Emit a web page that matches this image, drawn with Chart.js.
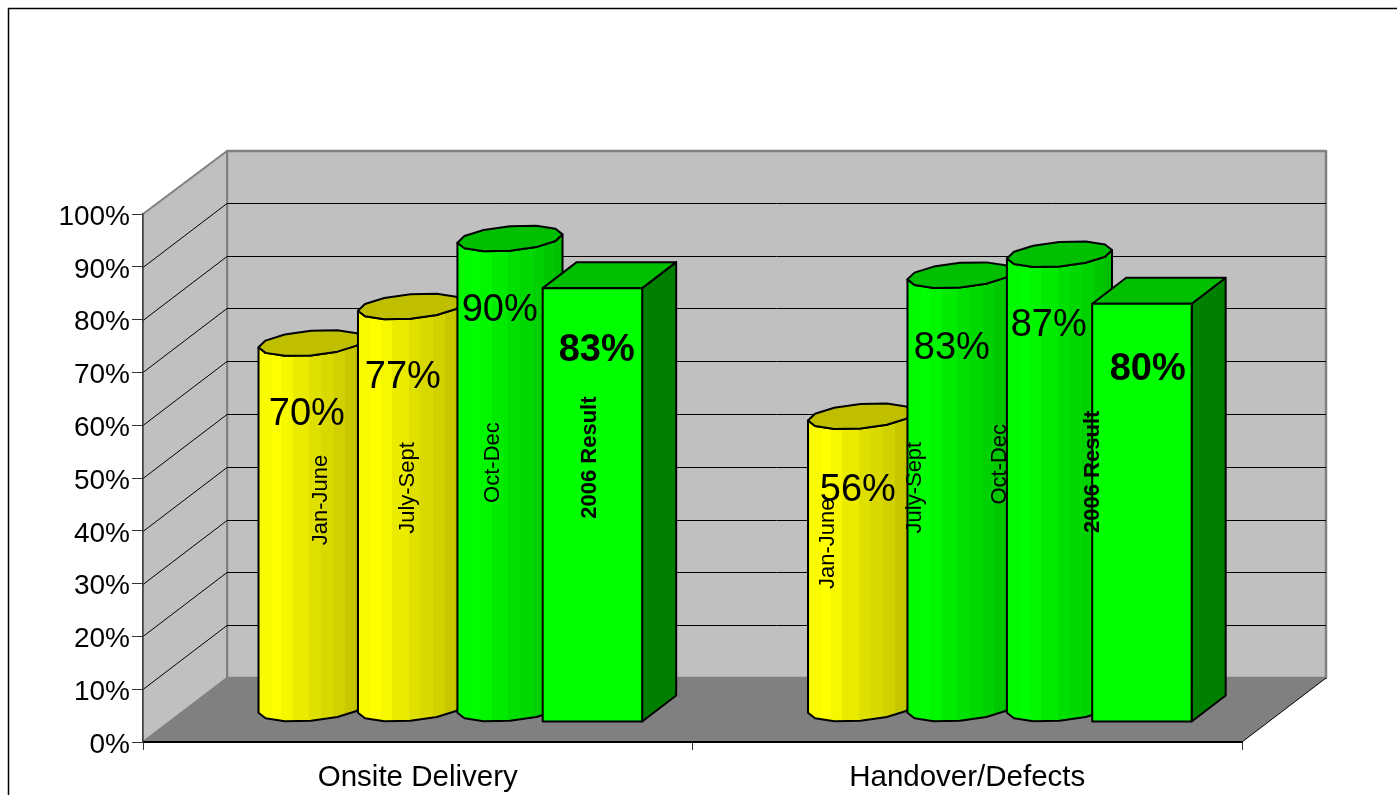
<!DOCTYPE html>
<html>
<head>
<meta charset="utf-8">
<title>2006 Result</title>
<script src="https://cdn.jsdelivr.net/npm/chart.js@4"></script>
<style>
    html, body { margin: 0; padding: 0; background: #ffffff; overflow: hidden; }
    canvas { display: block; }
</style>
</head>
<body>
<canvas id="resultChart" width="1397" height="795"></canvas>
<script>
// Chart data
const categories = ['Onsite Delivery', 'Handover/Defects'];
const seriesNames = ['Jan-June', 'July-Sept', 'Oct-Dec', '2006 Result'];
const janJune = [70, 56];
const julySept = [77, 83];
const octDec = [90, 87];
const result2006 = [83, 80];
const yTicks = [0, 10, 20, 30, 40, 50, 60, 70, 80, 90, 100];

// Colours per bar, one row for each series
const barColours = [
    [[255, 255, 0], [255, 255, 0]],
    [[255, 255, 0], [0, 255, 0]],
    [[0, 255, 0], [0, 255, 0]],
    [[0, 255, 0], [0, 255, 0]]
];
// Shading strips round the cylinder, left to right
const stripStops = [0.125, 0.218, 0.327, 0.483, 0.592, 0.717, 0.826, 0.92, 1];
const stripShades = [0.98, 1, 0.97, 0.92, 0.88, 0.85, 0.82, 0.78, 0.75];

// Label nudges, measured from the front left corner and the top of the bar
const valueDx = [[62.5, 64], [59, 58.5], [56.5, 56], [54, 55.5]];
const valueDy = [[58, 61], [58, 60], [59, 58], [62.5, 66]];
const nameDx = [[76.5, 34], [64, 21.5], [50, 7.5], [47.5, 1]];
const nameDy = [[144, 114.5], [168.5, 199.5], [211, 197], [169.5, 168]];

// 3D look of the plot
const FONT = '"Liberation Sans", Arial, sans-serif';
const WALL = { dx: 84, dy: 64 };
const BAR = { shiftX: 25.5, shiftY: 20, dx: 34, dy: 26, heightScale: 0.99, facets: 6 };

const rgb = (c, f = 1) => `rgb(${Math.round(c[0] * f)}, ${Math.round(c[1] * f)}, ${Math.round(c[2] * f)})`;

function fillPoly(ctx, points, fill, stroke, lineWidth) {
    ctx.beginPath();
    points.forEach((p, i) => (i ? ctx.lineTo(p[0], p[1]) : ctx.moveTo(p[0], p[1])));
    ctx.closePath();
    if (fill) {
        ctx.fillStyle = fill;
        ctx.fill();
    }
    if (stroke) {
        ctx.strokeStyle = stroke;
        ctx.lineWidth = lineWidth;
        ctx.lineJoin = 'round';
        ctx.stroke();
    }
}

// Position of a bar element once it stands on the floor
function barBox(el) {
    const left = el.x - el.width / 2 + BAR.shiftX;
    const bottom = el.base - BAR.shiftY;
    const top = bottom - (el.base - el.y) * BAR.heightScale;
    return { left, right: left + el.width, top, bottom, width: el.width };
}

function drawBlock(ctx, box, colour) {
    const { left, right, top, bottom } = box;
    fillPoly(ctx, [[right, top], [right + BAR.dx, top - BAR.dy], [right + BAR.dx, bottom - BAR.dy], [right, bottom]],
        rgb(colour, 0.5), '#000', 2);
    fillPoly(ctx, [[left, top], [left + BAR.dx, top - BAR.dy], [right + BAR.dx, top - BAR.dy], [right, top]],
        rgb(colour, 0.75), '#000', 2);
    fillPoly(ctx, [[left, top], [right, top], [right, bottom], [left, bottom]], rgb(colour), '#000', 2);
}

function drawCylinder(ctx, box, colour) {
    const a = box.width / 2;
    const cx = box.left + a + BAR.dx / 2;
    const yTop = box.top - BAR.dy / 2;
    const yBottom = box.bottom - BAR.dy / 2;
    const t0 = Math.atan2(BAR.dx / 2, a);
    const ring = (cy, t) => [cx + a * Math.cos(t) + (BAR.dx / 2) * Math.sin(t), cy - (BAR.dy / 2) * Math.sin(t)];

    // Front half of the circle, from the leftmost to the rightmost point
    const frontBottom = [];
    const frontTop = [];
    const backTop = [];
    for (let i = 0; i <= BAR.facets; i++) {
        const t = t0 + Math.PI + (i * Math.PI) / BAR.facets;
        frontBottom.push(ring(yBottom, t));
        frontTop.push(ring(yTop, t));
        backTop.push(ring(yTop, t - Math.PI));
    }

    const xMin = frontTop[0][0];
    const xMax = frontTop[BAR.facets][0];
    const gradient = ctx.createLinearGradient(xMin, 0, xMax, 0);
    let from = 0;
    stripStops.forEach((stop, i) => {
        gradient.addColorStop(from, rgb(colour, stripShades[i]));
        gradient.addColorStop(stop, rgb(colour, stripShades[i]));
        from = stop;
    });

    fillPoly(ctx, frontBottom.concat(frontTop.slice().reverse()), gradient, '#000', 2);
    fillPoly(ctx, frontTop.concat(backTop), rgb(colour, 0.75), '#000', 2);
}

// Side wall, back wall and floor behind the axes
const wallsPlugin = {
    id: 'walls',
    beforeDraw(chart) {
        const { ctx, scales: { x, y } } = chart;
        const left = x.left;
        const right = x.right;
        const y0 = y.getPixelForValue(0);
        const y100 = y.getPixelForValue(100);
        const { dx, dy } = WALL;

        ctx.save();
        // Frame of the chart area, its right and bottom sides are off the picture
        ctx.strokeStyle = '#000';
        ctx.lineWidth = 1.5;
        ctx.beginPath();
        ctx.moveTo(8.5, chart.height);
        ctx.lineTo(8.5, 8.5);
        ctx.lineTo(chart.width, 8.5);
        ctx.stroke();

        fillPoly(ctx, [[left + dx, y100 - dy + 1], [right + dx, y100 - dy + 1], [right + dx, y0 - dy], [left + dx, y0 - dy]],
            '#c0c0c0', '#808080', 2.5);
        fillPoly(ctx, [[left, y100], [left + dx, y100 - dy + 1], [left + dx, y0 - dy], [left, y0]],
            '#c0c0c0', '#808080', 2);
        fillPoly(ctx, [[left, y0], [left + dx, y0 - dy], [right + dx, y0 - dy], [right, y0]], '#808080');

        // Grid lines run along the side wall and then the back wall
        ctx.strokeStyle = '#000';
        ctx.lineWidth = 1;
        yTicks.slice(1, -1).forEach(tick => {
            const py = Math.round(y.getPixelForValue(tick)) + 0.5;
            ctx.beginPath();
            ctx.moveTo(left, py);
            ctx.lineTo(left + dx, py - dy);
            ctx.lineTo(right + dx, py - dy);
            ctx.stroke();
        });
        // Right edge of the floor
        ctx.beginPath();
        ctx.moveTo(right, y0);
        ctx.lineTo(right + dx, y0 - dy);
        ctx.stroke();
        ctx.restore();
    }
};

// Draws the bars as cylinders and blocks, the last series as blocks, then all labels on top
const barsPlugin = {
    id: 'bars3d',
    beforeDatasetDraw() {
        return false;
    },
    afterDatasetsDraw(chart) {
        const ctx = chart.ctx;
        ctx.save();
        categories.forEach((_, cat) => {
            chart.data.datasets.forEach((dataset, series) => {
                const box = barBox(chart.getDatasetMeta(series).data[cat]);
                if (series === chart.data.datasets.length - 1) {
                    drawBlock(ctx, box, barColours[series][cat]);
                } else {
                    drawCylinder(ctx, box, barColours[series][cat]);
                }
            });
        });

        ctx.fillStyle = '#000';
        ctx.textAlign = 'center';
        ctx.textBaseline = 'middle';
        chart.data.datasets.forEach((dataset, series) => {
            const bold = series === chart.data.datasets.length - 1;
            chart.getDatasetMeta(series).data.forEach((el, cat) => {
                const box = barBox(el);
                ctx.font = `${bold ? 'bold ' : ''}38px ${FONT}`;
                ctx.fillText(dataset.data[cat] + '%', box.left + valueDx[series][cat], box.top + valueDy[series][cat]);

                ctx.save();
                ctx.translate(box.left + nameDx[series][cat], box.top + nameDy[series][cat]);
                ctx.rotate(-Math.PI / 2);
                ctx.font = `${bold ? 'bold ' : ''}22px ${FONT}`;
                ctx.fillText(dataset.label, 0, 0);
                ctx.restore();
            });
        });
        ctx.restore();
    }
};

const seriesValues = [janJune, julySept, octDec, result2006];

new Chart(document.getElementById('resultChart'), {
    type: 'bar',
    data: {
        labels: categories,
        datasets: seriesNames.map((name, i) => ({ label: name, data: seriesValues[i] }))
    },
    options: {
        responsive: false,
        animation: false,
        devicePixelRatio: 1,
        categoryPercentage: 0.724,
        barPercentage: 1,
        layout: {
            autoPadding: false,
            padding: { left: 0, top: 214, right: 155, bottom: 0 }
        },
        plugins: {
            legend: { display: false },
            title: { display: false },
            tooltip: { enabled: false }
        },
        scales: {
            x: {
                afterFit(scale) { scale.height = 53; },
                border: { color: '#000', width: 2 },
                grid: { drawOnChartArea: false, tickLength: 8, tickColor: '#333', tickWidth: 1 },
                ticks: { color: '#000', font: { family: FONT, size: 29.5 }, padding: 10, maxRotation: 0 }
            },
            y: {
                min: 0,
                max: 100,
                afterFit(scale) { scale.width = 143; },
                afterBuildTicks(scale) { scale.ticks = yTicks.map(value => ({ value })); },
                border: { color: '#404040', width: 1.5 },
                grid: { drawOnChartArea: false, tickLength: 11, tickColor: '#333', tickWidth: 1 },
                ticks: {
                    color: '#000',
                    font: { family: FONT, size: 28 },
                    padding: 2,
                    labelOffset: 3,
                    callback: value => value + '%'
                }
            }
        }
    },
    plugins: [wallsPlugin, barsPlugin]
});
</script>
</body>
</html>
